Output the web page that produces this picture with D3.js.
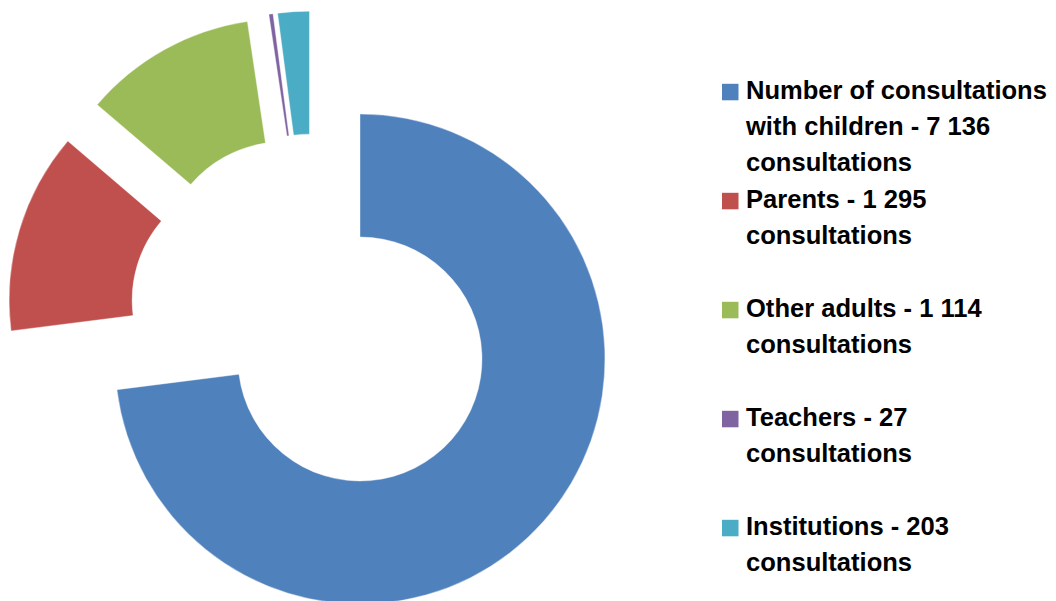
<!DOCTYPE html>
<html>
<head>
<meta charset="utf-8">
<script src="https://cdn.jsdelivr.net/npm/d3@7"></script>
<style>
  html, body { margin: 0; padding: 0; background: #fff; }
  svg { display: block; }
</style>
</head>
<body>
<svg id="chart" width="1056" height="601"></svg>
<script>
// ---- data ----
const categories = ["Number of consultations with children", "Parents", "Other adults", "Teachers", "Institutions"];
const values = [7136, 1295, 1114, 27, 203];
const colors = ["#4F81BD", "#C0504D", "#9BBB59", "#8064A2", "#4BACC6"];
const unitLabel = "consultations";

// ---- layout / style ----
const W = 1056, H = 601;
const cx = 313.5, cy = 318;
const outerR = 245, innerR = 122;
const explode = 62;

const svg = d3.select("#chart");
const fmt = d3.formatLocale({decimal: ".", thousands: " ", grouping: [3], currency: ["", ""]}).format(",d");

const pie = d3.pie().sort(null).value(d => d.value).startAngle(0).endAngle(2 * Math.PI);
const arc = d3.arc().innerRadius(innerR).outerRadius(outerR);
const data = categories.map((c, i) => ({name: c, value: values[i], color: colors[i]}));
const arcs = pie(data);

svg.append("g")
  .selectAll("path")
  .data(arcs)
  .join("path")
  .attr("d", arc)
  .attr("fill", d => d.data.color)
  .attr("stroke", "#fff")
  .attr("stroke-width", 0.4)
  .attr("transform", d => {
    const a = (d.startAngle + d.endAngle) / 2;
    return `translate(${cx + explode * Math.sin(a)},${cy - explode * Math.cos(a)})`;
  });

// ---- legend ----
const legX = 722, textX = 746;
const firstBaseline = 99.3, entryStep = 109, lineStep = 35.8;
const fontFamily = "'Liberation Sans', Arial, sans-serif";
const targetWidth = 301; // width of "Number of consultations"

// measure to size the font
const probe = svg.append("text").attr("font-family", fontFamily).attr("font-weight", "bold")
  .attr("font-size", 24).text("Number of consultations");
const fs = 24 * targetWidth / probe.node().getComputedTextLength();
probe.remove();

function wrap(str, maxW) {
  const words = str.split(" ");
  const t = svg.append("text").attr("font-family", fontFamily).attr("font-weight", "bold").attr("font-size", fs);
  const lines = [];
  let cur = "";
  words.forEach(w => {
    const test = cur ? cur + " " + w : w;
    t.text(test);
    if (t.node().getComputedTextLength() > maxW && cur) {
      lines.push(cur);
      cur = w;
    } else cur = test;
  });
  if (cur) lines.push(cur);
  t.remove();
  return lines;
}

const leg = svg.append("g");
data.forEach((d, i) => {
  const base = firstBaseline + i * entryStep;
  leg.append("rect")
    .attr("x", legX).attr("y", base - 15.5)
    .attr("width", 16.5).attr("height", 16.5)
    .attr("fill", d.color);
  const label = `${d.name} - ${fmt(d.value)} ${unitLabel}`;
  const lines = wrap(label, 308);
  const txt = leg.append("text")
    .attr("font-family", fontFamily)
    .attr("font-weight", "bold")
    .attr("font-size", fs)
    .attr("fill", "#000");
  lines.forEach((ln, j) => {
    txt.append("tspan").attr("x", textX).attr("y", base + j * lineStep).text(ln);
  });
});
</script>
</body>
</html>
